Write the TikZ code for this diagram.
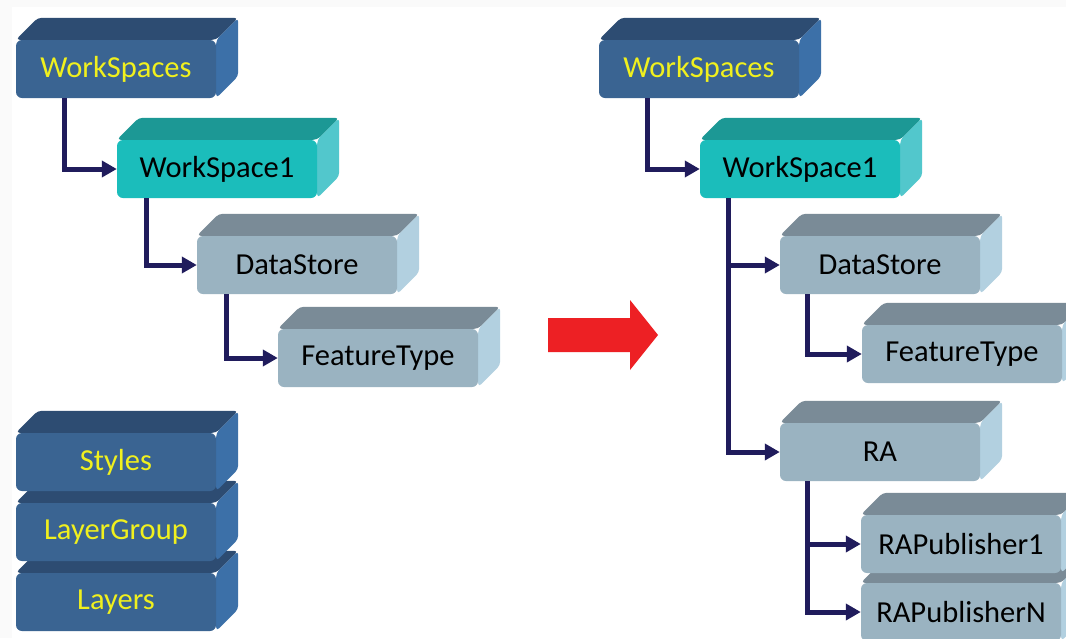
\documentclass[tikz,border=0pt]{standalone}
\usepackage{fontspec}
\setmainfont{Carlito}
\usetikzlibrary{arrows.meta}

\definecolor{dkfront}{RGB}{58,100,146}
\definecolor{dktop}{RGB}{45,76,114}
\definecolor{dkside}{RGB}{60,112,168}
\definecolor{tlfront}{RGB}{27,189,187}
\definecolor{tltop}{RGB}{28,152,149}
\definecolor{tlside}{RGB}{82,199,204}
\definecolor{gyfront}{RGB}{154,179,193}
\definecolor{gytop}{RGB}{122,139,151}
\definecolor{gyside}{RGB}{178,208,224}
\definecolor{yel}{RGB}{240,240,30}
\definecolor{navy}{RGB}{32,28,92}
\definecolor{bigred}{RGB}{237,32,36}

\begin{document}
\begin{tikzpicture}[x=1pt,y=-1pt,
  block/.style n args={3}{fill=#1, rounded corners=6pt, minimum width=200pt,
    minimum height=58pt, inner sep=0pt, font=\fontsize{30.5}{36}\selectfont,
    append after command={\pgfextra{
      \fill[#2,rounded corners=4pt] (\tikzlastnode.north west) -- ++(22pt,22pt)
        -- ([shift={(22pt,22pt)}]\tikzlastnode.north east) -- (\tikzlastnode.north east) -- cycle;
      \fill[#3,rounded corners=4pt] (\tikzlastnode.north east) -- ++(22pt,22pt)
        -- ([shift={(22pt,22pt)}]\tikzlastnode.south east) -- (\tikzlastnode.south east) -- cycle;}}},
  darkbox/.style={block={dkfront}{dktop}{dkside}, text=yel},
  tealbox/.style={block={tlfront}{tltop}{tlside}, text=black},
  greybox/.style={block={gyfront}{gytop}{gyside}, text=black},
  link/.style={draw=navy, line width=5pt, -{Triangle[length=15pt,width=16pt]}}]

%background
\fill[gray!4] (0,0) rectangle (1066,638);
\fill[white] (12,7) rectangle (1066,638);
\useasboundingbox (0,0) rectangle (1066,638);

% left tree
\node [darkbox] (ws) at(116,69){WorkSpaces};
\node [tealbox] (ws1) at(217,169){WorkSpace1};
\node [greybox] (ds) at(297,265){DataStore};
\node [greybox] (ft) at(378,358){FeatureType};

% left stack
\node [darkbox] (ly) at(116,602){Layers};
\node [darkbox] (lg) at(116,532){LayerGroup};
\node [darkbox] (st) at(116,462){Styles};

% big arrow
\fill[bigred] (548,318) -- (630,318) -- (630,300) -- (658,335) -- (630,370) -- (630,352) -- (548,352) -- cycle;

% right tree
\node [darkbox] (rws) at(699,69){WorkSpaces};
\node [tealbox] (rws1) at(800,169){WorkSpace1};
\node [greybox] (rds) at(880,265){DataStore};
\node [greybox] (rft) at(962,354){FeatureType};
\node [greybox] (ra) at(880,452){RA};
\node [greybox] (rpn) at(961,612){RAPublisherN};
\node [greybox] (rp1) at(961,544){RAPublisher1};

\draw[link] ([xshift=49pt]ws.south west) |- (ws1.west);
\draw[link] ([xshift=30pt]ws1.south west) |- (ds.west);
\draw[link] ([xshift=30pt]ds.south west) |- (ft.west);

\draw[link] ([xshift=49pt]rws.south west) |- (rws1.west);
\draw[link] ([xshift=29pt]rws1.south west) |- (rds.west);
\draw[link] ([xshift=29pt]rws1.south west) |- (ra.west);
\draw[link] ([xshift=28pt]rds.south west) |- (rft.west);
\draw[link] ([xshift=28pt]ra.south west) |- (rp1.west);
\draw[link] ([xshift=28pt]ra.south west) |- (rpn.west);
\end{tikzpicture}
\end{document}
